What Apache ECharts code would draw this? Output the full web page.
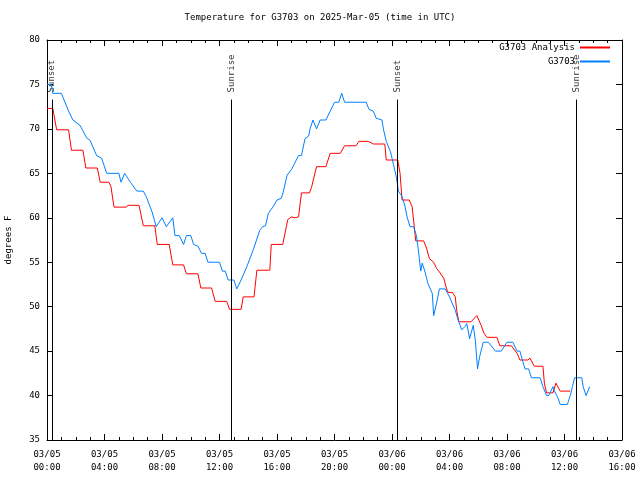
<!DOCTYPE html>
<html>
<head>
<meta charset="utf-8">
<script src="https://cdn.jsdelivr.net/npm/echarts@6/dist/echarts.min.js"></script>
<style>html,body{margin:0;padding:0;background:#fff}#c{width:640px;height:480px}</style>
</head>
<body>
<div id="c"></div>
<script>
// ---- data (hours since 2025-03-05 00:00 UTC) ----
var obsHours = [0,0.3,0.4,1.0,1.5,1.8,2.3,2.75,3.0,3.45,3.8,4.15,5.0,5.15,5.4,5.8,6.25,6.7,6.9,7.3,7.6,8.0,8.3,8.4,8.75,8.9,9.2,9.5,9.7,10.0,10.2,10.5,10.75,11.0,11.2,12.0,12.2,12.4,12.6,13.0,13.2,13.5,13.9,14.35,14.8,15.0,15.2,15.4,15.75,16.0,16.3,16.45,16.7,17.0,17.25,17.5,17.7,17.95,18.2,18.3,18.5,18.75,19.0,19.4,19.7,20.0,20.3,20.5,20.7,22.2,22.4,22.7,22.9,23.3,23.4,23.6,23.9,24.1,24.3,24.45,24.7,24.9,25.05,25.25,25.5,25.7,25.8,25.9,26.0,26.1,26.3,26.5,26.8,26.9,27.1,27.3,27.7,28.0,28.4,28.6,28.85,29.1,29.2,29.4,29.65,29.8,29.95,30.1,30.35,30.7,31.2,31.6,32.0,32.4,32.7,32.9,33.1,33.25,33.5,33.7,34.3,34.5,34.75,34.9,35.2,35.3,35.5,35.7,36.2,36.4,36.55,36.7,37.2,37.3,37.5,37.75];
var obsTemps = [75,75,74,74,72,71,70.4,69,68.7,67,66.7,65,65,64,65,64,63,63,62.4,60.7,59,60,59,59,60,58,58,57,58,58,57,56.8,56,56,55,55,54,54,53,53,52,53,54.5,56.4,58.6,59,59.1,60.5,61.3,62,62.2,63,64.8,65.4,66.2,67,67,68.9,69.2,70,71,70,71,71,72,73,73,74,73,73,72.2,72,71.2,71,70,68.6,67.4,66,64.6,63,62.4,61.3,60.1,59,59,58,56.8,55.4,54,54.9,53.9,52.6,51.5,49,50.4,52,52,51.1,49.6,48.5,47.4,47.8,48.1,46.4,47.9,46.2,43,44.4,46,46,45,45,46,46,45,45,43.8,43,43,42,42,41,40,40,41,40.5,39.9,39,39,40,41,42,42,41,40,41];

var anaHours = [0,0.4,0.55,0.67,1.5,1.7,2.5,2.7,3.5,3.7,4.3,4.45,4.66,5.5,5.65,6.4,6.7,7.5,7.67,8.5,8.75,9.5,9.7,10.5,10.7,11.45,11.7,12.5,12.7,13.5,13.65,14.4,14.6,15.5,15.6,16.4,16.75,17.0,17.25,17.5,17.7,18.25,18.4,18.75,19.4,19.7,20.4,20.7,21.5,21.7,22.35,22.7,23.5,23.6,24.4,24.56,24.7,25.2,25.4,25.55,25.65,26.2,26.4,26.6,26.9,27.1,27.3,27.6,27.8,27.9,28.2,28.4,28.5,28.65,29.5,29.6,29.9,30.2,30.4,30.6,31.3,31.5,32.3,32.7,32.9,33.45,33.6,33.9,34.5,34.6,34.75,35.2,35.4,35.7,36.4];
var anaTemps = [72.3,72.3,71,69.9,69.9,67.6,67.6,65.6,65.6,64,64,63.5,61.2,61.2,61.4,61.4,59.1,59.1,57,57,54.7,54.7,53.7,53.7,52.1,52.1,50.6,50.6,49.7,49.7,51.1,51.1,54.1,54.1,57,57,59.8,60.1,60,60.1,62.8,62.8,63.4,65.75,65.75,67.25,67.25,68.1,68.1,68.6,68.6,68.3,68.3,66.5,66.5,65,62,62,61.25,59,57.4,57.4,56.6,55.4,55,54.3,53.9,53.2,52,51.6,51.6,51.1,49.6,48.3,48.3,48.1,49,47.9,47,46.55,46.55,45.6,45.6,44.75,44,44,44.2,43.3,43.3,41.4,40.3,40.3,41.4,40.5,40.5];

var sunHours = [0.35, 12.85, 24.37, 36.82];
var sunNames = ['Sunset', 'Sunrise', 'Sunset', 'Sunrise'];

var xTickLabels = ['03/05\n00:00','03/05\n04:00','03/05\n08:00','03/05\n12:00','03/05\n16:00','03/05\n20:00','03/06\n00:00','03/06\n04:00','03/06\n08:00','03/06\n12:00','03/06\n16:00'];

var seriesNames = ['G3703 Analysis', 'G3703'];
var seriesColors = ['#ff0000', '#0080ff'];
var titleText = 'Temperature for G3703 on 2025-Mar-05 (time in UTC)';
var yName = 'degrees F';

// ---- build ----
function zip(a, b) { return a.map(function (v, i) { return [v, b[i]]; }); }
var FONT = 'DejaVu Sans Mono';
var FS = 9;
var sunLineTop = 73.3;
var sunLabelY = 74.1;

var chart = echarts.init(document.getElementById('c'), null, { renderer: 'canvas' });

function xAxisDef(pos, showLabel) {
  return {
    type: 'value', position: pos, min: 0, max: 40, interval: 4,
    axisLine: { show: true, onZero: false, lineStyle: { color: '#000', width: 1 } },
    axisTick: { show: true, inside: true, length: 6, lineStyle: { color: '#000' } },
    minorTick: { show: true, splitNumber: 4, length: 3, lineStyle: { color: '#000' } },
    splitLine: { show: false },
    axisLabel: {
      show: showLabel, color: '#000', fontFamily: FONT, fontSize: FS, margin: 8, lineHeight: 13,
      formatter: function (v) { return xTickLabels[Math.round(v / 4)]; }
    }
  };
}
function yAxisDef(pos, showLabel) {
  return {
    type: 'value', position: pos, min: 35, max: 80, interval: 5,
    name: showLabel ? yName : '', nameLocation: 'middle', nameGap: 34, nameRotate: 90,
    nameTextStyle: { color: '#000', fontFamily: FONT, fontSize: FS },
    axisLine: { show: true, onZero: false, lineStyle: { color: '#000', width: 1 } },
    axisTick: { show: true, inside: true, length: 6, lineStyle: { color: '#000' } },
    splitLine: { show: false },
    axisLabel: { show: showLabel, color: '#000', fontFamily: FONT, fontSize: FS, margin: 7 }
  };
}

function legendDef(i, top) {
  return {
    orient: 'horizontal', align: 'right', itemWidth: 30, itemHeight: 2, itemGap: 0,
    right: 25, top: top, selectedMode: false,
    textStyle: { color: '#000', fontFamily: FONT, fontSize: FS },
    data: [{ name: seriesNames[i], icon: 'rect', itemStyle: { color: seriesColors[i], borderWidth: 0 } }]
  };
}

var option = {
  animation: false,
  backgroundColor: '#fff',
  textStyle: { fontFamily: FONT },
  title: {
    text: titleText, left: 'center', top: 8,
    textStyle: { color: '#000', fontFamily: FONT, fontSize: FS, fontWeight: 'normal' }
  },
  legend: [legendDef(0, 38), legendDef(1, 52)],
  grid: { left: 47, right: 18, top: 40, bottom: 40, containLabel: false, outerBoundsMode: 'none' },
  xAxis: [xAxisDef('bottom', true), xAxisDef('top', false)],
  yAxis: [yAxisDef('left', true), yAxisDef('right', false)],
  series: [
    {
      name: seriesNames[0], type: 'line', data: zip(anaHours, anaTemps),
      showSymbol: false, color: seriesColors[0], lineStyle: { width: 1, color: seriesColors[0] },
      markLine: {
        silent: true, symbol: 'none', animation: false,
        label: { show: false },
        lineStyle: { color: '#000', width: 1, type: 'solid' },
        data: sunHours.map(function (h) { return [{ coord: [h, 35] }, { coord: [h, sunLineTop] }]; })
      }
    },
    {
      name: seriesNames[1], type: 'line', data: zip(obsHours, obsTemps),
      showSymbol: false, color: seriesColors[1], lineStyle: { width: 1, color: seriesColors[1] }
    },
    {
      name: 'sun', type: 'scatter', symbolSize: 0, silent: true,
      data: sunHours.map(function (h, i) { return { value: [h, sunLabelY], name: sunNames[i] }; }),
      label: {
        show: true, position: [0, 0], rotate: 90, align: 'left', verticalAlign: 'middle',
        color: '#000', fontFamily: FONT, fontSize: FS,
        formatter: function (p) { return p.name; }
      }
    }
  ]
};
chart.setOption(option);
</script>
</body>
</html>
